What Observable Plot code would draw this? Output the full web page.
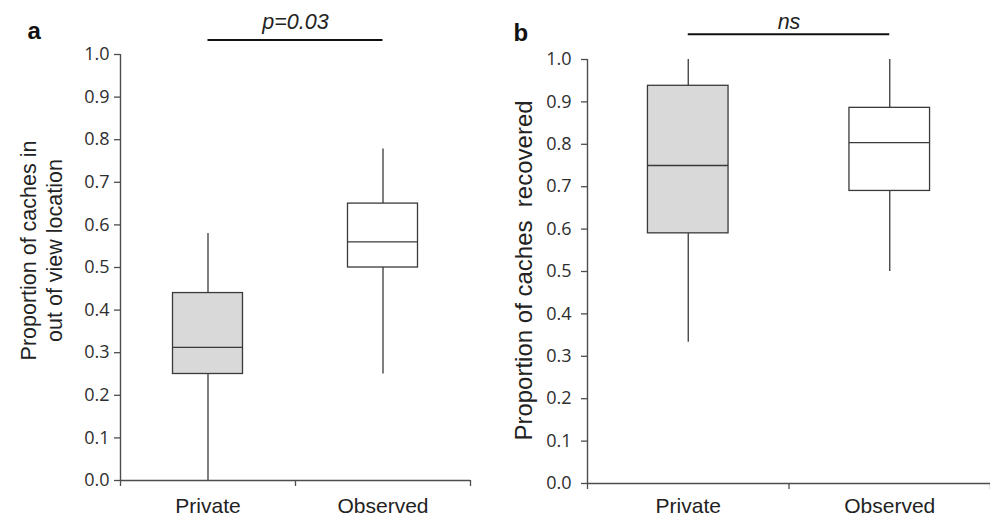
<!DOCTYPE html>
<html><head><meta charset="utf-8">
<script src="https://cdn.jsdelivr.net/npm/d3@7"></script>
<script src="https://cdn.jsdelivr.net/npm/@observablehq/plot@0.6"></script>
<style>
body{margin:0;background:#fff;}
#wrap{position:relative;width:990px;height:517px;overflow:hidden;background:#fff;}
#wrap svg{position:absolute;top:0;overflow:visible;}
</style></head><body><div id="wrap"></div>
<script>
// ---- data ----
const categories = ["Private", "Observed"];
const boxFills = ["#d9d9d9", "#ffffff"];
const yTicks = [0, 0.1, 0.2, 0.3, 0.4, 0.5, 0.6, 0.7, 0.8, 0.9, 1.0];

// panel a: proportion of caches in out of view location
const aMin = [0.0, 0.25];
const aQ1  = [0.25, 0.50];
const aMed = [0.3125, 0.56];
const aQ3  = [0.44, 0.65];
const aMax = [0.58, 0.778];

// panel b: proportion of caches recovered
const bMin = [0.333, 0.50];
const bQ1  = [0.59, 0.69];
const bMed = [0.75, 0.804];
const bQ3  = [0.938, 0.886];
const bMax = [1.0, 1.0];

const AXIS = "#4d4d4d";
const BOX = "#3a3a3a";
const TEXTC = "#222";
const ARIAL = "Liberation Sans, Arial, sans-serif";
const TICKF = "Open Sans, sans-serif";

function panel(o) {
  const rows = categories.map((c, i) => ({
    cat: c, i, xc: i + 0.5,
    min: o.min[i], q1: o.q1[i], med: o.med[i], q3: o.q3[i], max: o.max[i],
    fill: boxFills[i]
  }));
  const chart = Plot.plot({
    width: o.width, height: 517,
    marginLeft: o.ml, marginRight: o.mr, marginTop: o.mt, marginBottom: o.mb,
    x: {domain: [0, 2]},
    y: {domain: [0, 1]},
    color: {type: "identity"},
    style: {background: "transparent", color: TEXTC, overflow: "visible"},
    marks: [
      // whiskers
      Plot.ruleX(rows, {x: "xc", y1: "min", y2: "q1", stroke: BOX, strokeWidth: 1.3}),
      Plot.ruleX(rows, {x: "xc", y1: "q3", y2: "max", stroke: BOX, strokeWidth: 1.3}),
      // boxes
      Plot.rect(rows, {x1: d => d.i + 0.3, x2: d => d.i + 0.7, y1: "q1", y2: "q3", fill: "fill", stroke: BOX, strokeWidth: 1.3}),
      // medians
      Plot.ruleY(rows, {x1: d => d.i + 0.3, x2: d => d.i + 0.7, y: "med", stroke: BOX, strokeWidth: 1.3}),
      // axis lines
      Plot.ruleX([0], {y1: () => 0, y2: () => 1, stroke: AXIS, strokeWidth: 1.4}),
      Plot.ruleY([0], {x1: () => 0, x2: () => 2, stroke: AXIS, strokeWidth: 1.4}),
      Plot.axisY({ticks: yTicks, tickFormat: d3.format(".1f"), tickSize: 6, tickPadding: o.ytp,
        stroke: AXIS, strokeWidth: 1.3, fill: "#2e2e2e", fontSize: 18, fontFamily: TICKF, label: null}),
      Plot.axisX({ticks: [0, 1, 2], tickSize: 6, tickFormat: () => "", stroke: AXIS, strokeWidth: 1.3, label: null}),
      Plot.axisX({ticks: [0.5, 1.5], tickSize: 0, tickPadding: o.xtp,
        tickFormat: d => categories[Math.round(d - 0.5)], fill: "#222",
        fontSize: 21, fontFamily: ARIAL, label: null}),
      // significance bar
      Plot.ruleY([1], {x1: () => 0.5, x2: () => 1.5, y: d => d, dy: o.sigDy, stroke: "#111", strokeWidth: 2}),
      Plot.text([o.sig], {x: () => 1, y: () => 1, dy: o.sigTextDy, text: d => d, lineAnchor: "bottom",
        fontStyle: "italic", fontSize: 21.5, fontFamily: ARIAL, fill: "#222"}),
      // panel letter
      Plot.text([o.letter], {frameAnchor: "top-left", dx: o.letterDx, dy: o.letterDy, text: d => d,
        textAnchor: "start", lineAnchor: "bottom", fontWeight: "bold", fontSize: 24, fontFamily: ARIAL, fill: "#111"}),
      // y label
      Plot.text([o.ylabel], {frameAnchor: "left", dx: o.ylDx, dy: o.ylDy, text: d => d, rotate: -90,
        textAnchor: "middle", lineAnchor: "middle", lineHeight: 1.22, fontSize: o.ylSize, fontFamily: ARIAL, fill: "#222"})
    ]
  });
  chart.style.left = o.left + "px";
  return chart;
}

const wrap = document.getElementById("wrap");
wrap.appendChild(panel({
  left: 0, width: 490, ml: 120, mr: 20, mt: 54, mb: 37, ytp: 5, xtp: 18,
  min: aMin, q1: aQ1, med: aMed, q3: aQ3, max: aMax,
  sig: "p=0.03", sigDy: -14.5, sigTextDy: -26,
  letter: "a", letterDx: -93, letterDy: -16,
  ylabel: "Proportion of caches in\nout of view location", ylDx: -80, ylDy: -17, ylSize: 21.5
}));
wrap.appendChild(panel({
  left: 490, width: 500, ml: 97, mr: 0, mt: 59, mb: 34, ytp: 10, xtp: 15,
  min: bMin, q1: bQ1, med: bMed, q3: bQ3, max: bMax,
  sig: "ns", sigDy: -25.3, sigTextDy: -31,
  letter: "b", letterDx: -74, letterDy: -19,
  ylabel: "Proportion of caches  recovered", ylDx: -65, ylDy: -1, ylSize: 24
}));
</script></body></html>
